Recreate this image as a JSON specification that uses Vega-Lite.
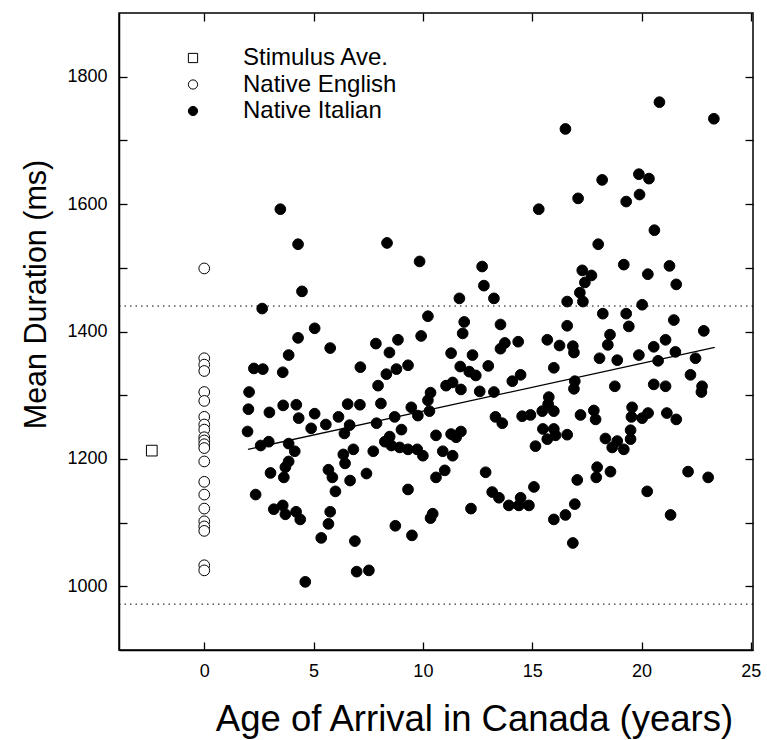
{
  "$schema": "https://vega.github.io/schema/vega-lite/v6.json",
  "width": 634,
  "height": 637,
  "autosize": {"type": "none"},
  "padding": {"left": 119, "top": 13, "right": 14, "bottom": 90},
  "background": "white",
  "config": {
    "view": {"stroke": "black", "strokeWidth": 1.5},
    "font": "Liberation Sans",
    "axis": {
      "grid": false,
      "domainColor": "black",
      "domainWidth": 1.5,
      "tickColor": "black",
      "tickWidth": 1.3,
      "tickSize": 8,
      "ticks": true,
      "labelColor": "black",
      "titleColor": "black",
      "titleFontWeight": "normal",
      "labelFont": "Liberation Sans",
      "titleFont": "Liberation Sans"
    },
    "legend": {
      "orient": "none",
      "legendX": 62,
      "legendY": 33,
      "labelFont": "Liberation Sans",
      "labelFontSize": 24,
      "labelColor": "black",
      "symbolSize": 85,
      "symbolStrokeWidth": 1,
      "rowPadding": 2.5,
      "labelOffset": 38,
      "padding": 0
    }
  },
  "datasets": {
    "refs": [{"dur": 1440}, {"dur": 972}],
    "fit": [{"age": 2.0, "dur": 1215}, {"age": 23.35, "dur": 1375}],
    "pts": [
      {"group": "Stimulus Ave.", "age": -2.4, "dur": 1213},
      {"group": "Native English", "age": 0, "dur": 1499},
      {"group": "Native English", "age": 0, "dur": 1358},
      {"group": "Native English", "age": 0, "dur": 1348},
      {"group": "Native English", "age": 0, "dur": 1338},
      {"group": "Native English", "age": 0, "dur": 1305},
      {"group": "Native English", "age": 0, "dur": 1291},
      {"group": "Native English", "age": 0, "dur": 1266},
      {"group": "Native English", "age": 0, "dur": 1254},
      {"group": "Native English", "age": 0, "dur": 1246},
      {"group": "Native English", "age": 0, "dur": 1234},
      {"group": "Native English", "age": 0, "dur": 1229},
      {"group": "Native English", "age": 0, "dur": 1223},
      {"group": "Native English", "age": 0, "dur": 1217},
      {"group": "Native English", "age": 0, "dur": 1196},
      {"group": "Native English", "age": 0, "dur": 1164},
      {"group": "Native English", "age": 0, "dur": 1144},
      {"group": "Native English", "age": 0, "dur": 1122},
      {"group": "Native English", "age": 0, "dur": 1102},
      {"group": "Native English", "age": 0, "dur": 1094},
      {"group": "Native English", "age": 0, "dur": 1087},
      {"group": "Native English", "age": 0, "dur": 1033},
      {"group": "Native English", "age": 0, "dur": 1025},
      {"group": "Native Italian", "age": 3.48, "dur": 1592},
      {"group": "Native Italian", "age": 4.29, "dur": 1537},
      {"group": "Native Italian", "age": 8.36, "dur": 1539},
      {"group": "Native Italian", "age": 9.85, "dur": 1510},
      {"group": "Native Italian", "age": 4.47, "dur": 1463},
      {"group": "Native Italian", "age": 2.65, "dur": 1436},
      {"group": "Native Italian", "age": 11.67, "dur": 1452},
      {"group": "Native Italian", "age": 10.23, "dur": 1424},
      {"group": "Native Italian", "age": 5.05, "dur": 1405},
      {"group": "Native Italian", "age": 11.89, "dur": 1415},
      {"group": "Native Italian", "age": 4.29, "dur": 1390},
      {"group": "Native Italian", "age": 9.92, "dur": 1393},
      {"group": "Native Italian", "age": 8.86, "dur": 1387},
      {"group": "Native Italian", "age": 7.85, "dur": 1381},
      {"group": "Native Italian", "age": 11.82, "dur": 1397},
      {"group": "Native Italian", "age": 5.76, "dur": 1374},
      {"group": "Native Italian", "age": 3.86, "dur": 1363},
      {"group": "Native Italian", "age": 8.47, "dur": 1367},
      {"group": "Native Italian", "age": 11.29, "dur": 1366},
      {"group": "Native Italian", "age": 12.27, "dur": 1363},
      {"group": "Native Italian", "age": 2.27, "dur": 1342},
      {"group": "Native Italian", "age": 2.68, "dur": 1341},
      {"group": "Native Italian", "age": 3.59, "dur": 1336},
      {"group": "Native Italian", "age": 7.14, "dur": 1344},
      {"group": "Native Italian", "age": 9.32, "dur": 1347},
      {"group": "Native Italian", "age": 8.79, "dur": 1341},
      {"group": "Native Italian", "age": 8.33, "dur": 1333},
      {"group": "Native Italian", "age": 11.71, "dur": 1345},
      {"group": "Native Italian", "age": 12.12, "dur": 1337},
      {"group": "Native Italian", "age": 7.95, "dur": 1315},
      {"group": "Native Italian", "age": 11.06, "dur": 1315},
      {"group": "Native Italian", "age": 11.36, "dur": 1320},
      {"group": "Native Italian", "age": 11.74, "dur": 1309},
      {"group": "Native Italian", "age": 2.05, "dur": 1305},
      {"group": "Native Italian", "age": 10.35, "dur": 1304},
      {"group": "Native Italian", "age": 10.23, "dur": 1292},
      {"group": "Native Italian", "age": 2.02, "dur": 1278},
      {"group": "Native Italian", "age": 2.98, "dur": 1273},
      {"group": "Native Italian", "age": 3.61, "dur": 1284},
      {"group": "Native Italian", "age": 4.21, "dur": 1285},
      {"group": "Native Italian", "age": 4.32, "dur": 1264},
      {"group": "Native Italian", "age": 5.05, "dur": 1271},
      {"group": "Native Italian", "age": 5.56, "dur": 1254},
      {"group": "Native Italian", "age": 4.89, "dur": 1248},
      {"group": "Native Italian", "age": 6.56, "dur": 1286},
      {"group": "Native Italian", "age": 7.12, "dur": 1285},
      {"group": "Native Italian", "age": 6.14, "dur": 1266},
      {"group": "Native Italian", "age": 6.65, "dur": 1253},
      {"group": "Native Italian", "age": 6.41, "dur": 1240},
      {"group": "Native Italian", "age": 8.08, "dur": 1287},
      {"group": "Native Italian", "age": 8.71, "dur": 1266},
      {"group": "Native Italian", "age": 7.88, "dur": 1256},
      {"group": "Native Italian", "age": 9.47, "dur": 1281},
      {"group": "Native Italian", "age": 9.77, "dur": 1268},
      {"group": "Native Italian", "age": 10.3, "dur": 1275},
      {"group": "Native Italian", "age": 1.98, "dur": 1243},
      {"group": "Native Italian", "age": 2.58, "dur": 1221},
      {"group": "Native Italian", "age": 2.95, "dur": 1227},
      {"group": "Native Italian", "age": 3.86, "dur": 1224},
      {"group": "Native Italian", "age": 4.14, "dur": 1212},
      {"group": "Native Italian", "age": 9.02, "dur": 1246},
      {"group": "Native Italian", "age": 8.48, "dur": 1235},
      {"group": "Native Italian", "age": 8.26, "dur": 1227},
      {"group": "Native Italian", "age": 8.56, "dur": 1221},
      {"group": "Native Italian", "age": 8.94, "dur": 1218},
      {"group": "Native Italian", "age": 9.32, "dur": 1215},
      {"group": "Native Italian", "age": 9.74, "dur": 1215},
      {"group": "Native Italian", "age": 10.0, "dur": 1205},
      {"group": "Native Italian", "age": 10.6, "dur": 1237},
      {"group": "Native Italian", "age": 11.29, "dur": 1239},
      {"group": "Native Italian", "age": 11.74, "dur": 1243},
      {"group": "Native Italian", "age": 11.52, "dur": 1234},
      {"group": "Native Italian", "age": 10.91, "dur": 1212},
      {"group": "Native Italian", "age": 11.36, "dur": 1205},
      {"group": "Native Italian", "age": 6.36, "dur": 1207},
      {"group": "Native Italian", "age": 6.82, "dur": 1215},
      {"group": "Native Italian", "age": 7.73, "dur": 1212},
      {"group": "Native Italian", "age": 3.86, "dur": 1196},
      {"group": "Native Italian", "age": 3.03, "dur": 1178},
      {"group": "Native Italian", "age": 3.64, "dur": 1171},
      {"group": "Native Italian", "age": 3.71, "dur": 1187},
      {"group": "Native Italian", "age": 5.68, "dur": 1183},
      {"group": "Native Italian", "age": 5.86, "dur": 1171},
      {"group": "Native Italian", "age": 6.44, "dur": 1193},
      {"group": "Native Italian", "age": 7.42, "dur": 1177},
      {"group": "Native Italian", "age": 6.67, "dur": 1166},
      {"group": "Native Italian", "age": 6.0, "dur": 1149},
      {"group": "Native Italian", "age": 10.6, "dur": 1171},
      {"group": "Native Italian", "age": 11.0, "dur": 1182},
      {"group": "Native Italian", "age": 9.32, "dur": 1152},
      {"group": "Native Italian", "age": 2.35, "dur": 1144},
      {"group": "Native Italian", "age": 3.18, "dur": 1121},
      {"group": "Native Italian", "age": 3.59, "dur": 1127},
      {"group": "Native Italian", "age": 3.71, "dur": 1113},
      {"group": "Native Italian", "age": 4.2, "dur": 1117},
      {"group": "Native Italian", "age": 4.39, "dur": 1105},
      {"group": "Native Italian", "age": 5.76, "dur": 1117},
      {"group": "Native Italian", "age": 5.68, "dur": 1098},
      {"group": "Native Italian", "age": 5.35, "dur": 1076},
      {"group": "Native Italian", "age": 8.74, "dur": 1095},
      {"group": "Native Italian", "age": 9.5, "dur": 1080},
      {"group": "Native Italian", "age": 10.45, "dur": 1114},
      {"group": "Native Italian", "age": 10.35, "dur": 1107},
      {"group": "Native Italian", "age": 12.2, "dur": 1122},
      {"group": "Native Italian", "age": 6.89, "dur": 1071},
      {"group": "Native Italian", "age": 6.97, "dur": 1023},
      {"group": "Native Italian", "age": 7.53, "dur": 1025},
      {"group": "Native Italian", "age": 4.62, "dur": 1007},
      {"group": "Native Italian", "age": 20.82, "dur": 1760},
      {"group": "Native Italian", "age": 23.31, "dur": 1734},
      {"group": "Native Italian", "age": 16.52, "dur": 1718},
      {"group": "Native Italian", "age": 18.2, "dur": 1638},
      {"group": "Native Italian", "age": 19.88, "dur": 1647},
      {"group": "Native Italian", "age": 20.34, "dur": 1640},
      {"group": "Native Italian", "age": 19.91, "dur": 1615},
      {"group": "Native Italian", "age": 19.3, "dur": 1604},
      {"group": "Native Italian", "age": 17.1, "dur": 1609},
      {"group": "Native Italian", "age": 15.3, "dur": 1592},
      {"group": "Native Italian", "age": 20.59, "dur": 1559},
      {"group": "Native Italian", "age": 18.02, "dur": 1537},
      {"group": "Native Italian", "age": 12.71, "dur": 1502},
      {"group": "Native Italian", "age": 19.19, "dur": 1505},
      {"group": "Native Italian", "age": 21.28, "dur": 1503},
      {"group": "Native Italian", "age": 20.29, "dur": 1490},
      {"group": "Native Italian", "age": 17.29, "dur": 1496},
      {"group": "Native Italian", "age": 17.71, "dur": 1488},
      {"group": "Native Italian", "age": 17.41, "dur": 1477},
      {"group": "Native Italian", "age": 12.79, "dur": 1472},
      {"group": "Native Italian", "age": 21.59, "dur": 1474},
      {"group": "Native Italian", "age": 13.25, "dur": 1452},
      {"group": "Native Italian", "age": 17.18, "dur": 1461},
      {"group": "Native Italian", "age": 17.32, "dur": 1447},
      {"group": "Native Italian", "age": 16.6, "dur": 1447},
      {"group": "Native Italian", "age": 20.03, "dur": 1442},
      {"group": "Native Italian", "age": 18.23, "dur": 1428},
      {"group": "Native Italian", "age": 19.3, "dur": 1428},
      {"group": "Native Italian", "age": 21.48, "dur": 1418},
      {"group": "Native Italian", "age": 13.55, "dur": 1411},
      {"group": "Native Italian", "age": 16.6, "dur": 1409},
      {"group": "Native Italian", "age": 19.42, "dur": 1408},
      {"group": "Native Italian", "age": 22.85, "dur": 1401},
      {"group": "Native Italian", "age": 18.56, "dur": 1395},
      {"group": "Native Italian", "age": 15.69, "dur": 1387},
      {"group": "Native Italian", "age": 14.36, "dur": 1384},
      {"group": "Native Italian", "age": 13.75, "dur": 1382},
      {"group": "Native Italian", "age": 13.55, "dur": 1373},
      {"group": "Native Italian", "age": 16.25, "dur": 1378},
      {"group": "Native Italian", "age": 16.86, "dur": 1377},
      {"group": "Native Italian", "age": 16.91, "dur": 1367},
      {"group": "Native Italian", "age": 18.46, "dur": 1379},
      {"group": "Native Italian", "age": 21.1, "dur": 1387},
      {"group": "Native Italian", "age": 20.56, "dur": 1376},
      {"group": "Native Italian", "age": 21.55, "dur": 1368},
      {"group": "Native Italian", "age": 18.08, "dur": 1358},
      {"group": "Native Italian", "age": 18.89, "dur": 1355},
      {"group": "Native Italian", "age": 19.88, "dur": 1363},
      {"group": "Native Italian", "age": 20.76, "dur": 1354},
      {"group": "Native Italian", "age": 22.47, "dur": 1358},
      {"group": "Native Italian", "age": 12.99, "dur": 1346},
      {"group": "Native Italian", "age": 12.42, "dur": 1331},
      {"group": "Native Italian", "age": 15.99, "dur": 1343},
      {"group": "Native Italian", "age": 22.24, "dur": 1332},
      {"group": "Native Italian", "age": 14.09, "dur": 1322},
      {"group": "Native Italian", "age": 14.47, "dur": 1332},
      {"group": "Native Italian", "age": 16.95, "dur": 1322},
      {"group": "Native Italian", "age": 16.91, "dur": 1310},
      {"group": "Native Italian", "age": 18.78, "dur": 1314},
      {"group": "Native Italian", "age": 20.56, "dur": 1317},
      {"group": "Native Italian", "age": 21.1, "dur": 1314},
      {"group": "Native Italian", "age": 22.77, "dur": 1314},
      {"group": "Native Italian", "age": 22.74, "dur": 1305},
      {"group": "Native Italian", "age": 12.6, "dur": 1306},
      {"group": "Native Italian", "age": 13.25, "dur": 1305},
      {"group": "Native Italian", "age": 15.76, "dur": 1297},
      {"group": "Native Italian", "age": 15.73, "dur": 1286},
      {"group": "Native Italian", "age": 15.46, "dur": 1275},
      {"group": "Native Italian", "age": 15.99, "dur": 1275},
      {"group": "Native Italian", "age": 13.32, "dur": 1266},
      {"group": "Native Italian", "age": 13.63, "dur": 1256},
      {"group": "Native Italian", "age": 14.54, "dur": 1267},
      {"group": "Native Italian", "age": 14.92, "dur": 1269},
      {"group": "Native Italian", "age": 17.21, "dur": 1269},
      {"group": "Native Italian", "age": 17.82, "dur": 1276},
      {"group": "Native Italian", "age": 17.9, "dur": 1262},
      {"group": "Native Italian", "age": 19.57, "dur": 1281},
      {"group": "Native Italian", "age": 19.54, "dur": 1266},
      {"group": "Native Italian", "age": 20.03, "dur": 1264},
      {"group": "Native Italian", "age": 20.3, "dur": 1272},
      {"group": "Native Italian", "age": 21.16, "dur": 1272},
      {"group": "Native Italian", "age": 21.59, "dur": 1262},
      {"group": "Native Italian", "age": 15.49, "dur": 1247},
      {"group": "Native Italian", "age": 15.69, "dur": 1231},
      {"group": "Native Italian", "age": 15.99, "dur": 1247},
      {"group": "Native Italian", "age": 16.07, "dur": 1237},
      {"group": "Native Italian", "age": 16.6, "dur": 1238},
      {"group": "Native Italian", "age": 15.15, "dur": 1220},
      {"group": "Native Italian", "age": 18.35, "dur": 1232},
      {"group": "Native Italian", "age": 18.66, "dur": 1218},
      {"group": "Native Italian", "age": 18.89, "dur": 1228},
      {"group": "Native Italian", "age": 19.19, "dur": 1215},
      {"group": "Native Italian", "age": 19.5, "dur": 1231},
      {"group": "Native Italian", "age": 19.5, "dur": 1245},
      {"group": "Native Italian", "age": 12.87, "dur": 1179},
      {"group": "Native Italian", "age": 13.17, "dur": 1148},
      {"group": "Native Italian", "age": 13.48, "dur": 1139},
      {"group": "Native Italian", "age": 13.93, "dur": 1127},
      {"group": "Native Italian", "age": 14.39, "dur": 1127},
      {"group": "Native Italian", "age": 14.47, "dur": 1139},
      {"group": "Native Italian", "age": 14.85, "dur": 1127},
      {"group": "Native Italian", "age": 15.08, "dur": 1156},
      {"group": "Native Italian", "age": 17.06, "dur": 1167},
      {"group": "Native Italian", "age": 17.97, "dur": 1187},
      {"group": "Native Italian", "age": 17.93, "dur": 1171},
      {"group": "Native Italian", "age": 18.58, "dur": 1180},
      {"group": "Native Italian", "age": 20.26, "dur": 1149},
      {"group": "Native Italian", "age": 22.13, "dur": 1180},
      {"group": "Native Italian", "age": 23.05, "dur": 1171},
      {"group": "Native Italian", "age": 15.99, "dur": 1105},
      {"group": "Native Italian", "age": 16.52, "dur": 1112},
      {"group": "Native Italian", "age": 16.95, "dur": 1129},
      {"group": "Native Italian", "age": 16.86, "dur": 1068},
      {"group": "Native Italian", "age": 21.33, "dur": 1112}
    ]
  },
  "layer": [
    {
      "data": {"name": "refs"},
      "mark": {"type": "rule", "color": "black", "strokeWidth": 1, "strokeDash": [1.5, 4]},
      "encoding": {
        "y": {"field": "dur", "type": "quantitative",
              "scale": {"domain": [900, 1900], "nice": false, "zero": false},
              "axis": {"orient": "left", "values": [1000, 1100, 1200, 1300, 1400, 1500, 1600, 1700, 1800],
                       "offset": -8, "domain": false, "labels": false, "title": null, "ticks": true}}
      }
    },
    {
      "data": {"name": "pts"},
      "mark": {"type": "point", "strokeWidth": 1, "size": 115, "opacity": 1},
      "encoding": {
        "x": {"field": "age", "type": "quantitative",
              "scale": {"domain": [-3.9, 25.1], "nice": false, "zero": false},
              "axis": {"orient": "bottom", "values": [0, 5, 10, 15, 20, 25], "ticks": false, "labelFontSize": 18,
                       "labelPadding": 12, "title": "Age of Arrival in Canada (years)",
                       "titleFontSize": 36.5, "titlePadding": 21, "titleX": 355}},
        "y": {"field": "dur", "type": "quantitative",
              "scale": {"domain": [900, 1900], "nice": false, "zero": false},
              "axis": {"orient": "left", "values": [1000, 1200, 1400, 1600, 1800],
                       "format": "d", "ticks": false,
                       "labelFontSize": 18, "labelPadding": 12, "title": "Mean Duration (ms)",
                       "titleFontSize": 30.5, "titlePadding": 15, "titleY": 281}},
        "shape": {"field": "group", "type": "nominal",
                  "scale": {"domain": ["Stimulus Ave.", "Native English", "Native Italian"], "range": ["square", "circle", "circle"]},
                  "legend": {"title": null}},
        "fill": {"field": "group", "type": "nominal",
                 "scale": {"domain": ["Stimulus Ave.", "Native English", "Native Italian"], "range": ["white", "white", "black"]},
                 "legend": {"title": null}},
        "stroke": {"field": "group", "type": "nominal",
                   "scale": {"domain": ["Stimulus Ave.", "Native English", "Native Italian"], "range": ["black", "black", "black"]},
                   "legend": {"title": null}}
      }
    },
    {
      "data": {"name": "fit"},
      "mark": {"type": "line", "color": "black", "strokeWidth": 1.3},
      "encoding": {
        "x": {"field": "age", "type": "quantitative",
              "axis": {"orient": "top", "values": [0, 5, 10, 15, 20, 25], "offset": -8, "domain": false, "labels": false, "title": null, "ticks": true}},
        "y": {"field": "dur", "type": "quantitative",
              "axis": {"orient": "right", "values": [1000, 1100, 1200, 1300, 1400, 1500, 1600, 1700, 1800],
                       "offset": -8, "domain": false, "labels": false, "title": null, "ticks": true}}
      }
    },
    {
      "data": {"name": "fit"},
      "mark": {"type": "line", "color": "black", "strokeWidth": 1.3, "opacity": 0},
      "encoding": {
        "x": {"field": "age", "type": "quantitative",
              "axis": {"orient": "bottom", "values": [0, 5, 10, 15, 20, 25], "offset": -8, "domain": false, "labels": false, "title": null, "ticks": true}},
        "y": {"field": "dur", "type": "quantitative", "axis": null}
      }
    }
  ],
  "resolve": {"axis": {"x": "independent", "y": "independent"}}
}
